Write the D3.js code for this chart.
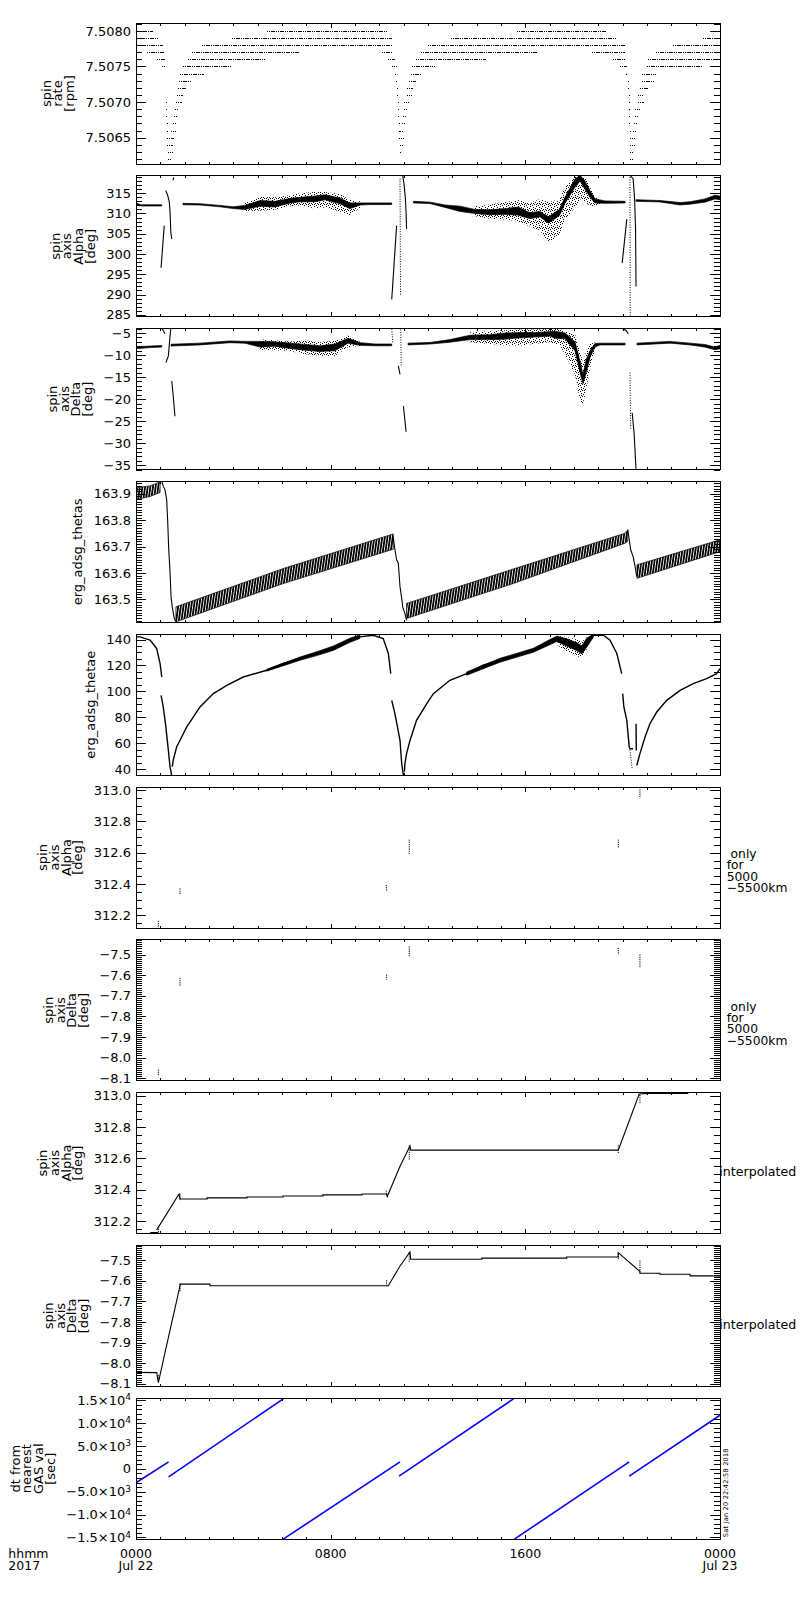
<!DOCTYPE html>
<html lang="en">
<head>
<meta charset="UTF-8">
<title>ERG spin axis, 2017 Jul 22</title>
<script src="https://d3js.org/d3.v7.min.js"></script>
<style>
  body { margin: 0; background: #fff; }
  svg { display: block; font-family: "DejaVu Sans", sans-serif; }
  .frame { fill: none; stroke: #000; stroke-width: 1; shape-rendering: crispEdges; }
  .tick line { shape-rendering: crispEdges; }
</style>
</head>
<body>
<svg id="chart" width="800" height="1600"></svg>
<script>
// ---------- time axis (hours after 2017-07-22 00:00)
const hourMajor = [0, 8, 16, 24];
const hourMinor = d3.range(0, 25);
const hourLabels = [["0000", "Jul 22"], ["0800"], ["1600"], ["0000", "Jul 23"]];

// ---------- panel setup
const panelTitles = [
  ["spin", "rate", "[rpm]"],
  ["spin", "axis", "Alpha", "[deg]"],
  ["spin", "axis", "Delta", "[deg]"],
  ["erg_adsg_thetas"],
  ["erg_adsg_thetae"],
  ["spin", "axis", "Alpha", "[deg]"],
  ["spin", "axis", "Delta", "[deg]"],
  ["spin", "axis", "Alpha", "[deg]"],
  ["spin", "axis", "Delta", "[deg]"],
  ["dt from", "nearest", "GAS val", "[sec]"]
];
const panelRanges = [
  [7.50613, 7.50811], [284.5, 319.3], [-36, -4], [163.413, 163.947], [35.4, 144.1],
  [312.12, 313.02], [-8.113, -7.428], [312.12, 313.02], [-8.113, -7.428], [-15400, 15450]
];
const majorSteps = [0.0005, 5, 5, 0.1, 20, 0.2, 0.1, 0.2, 0.1, 5000];
const minorSteps = [0.0001, 1, 1, 0.01, 5, 0.05, 0.01, 0.05, 0.01, 1000];
const labelFormats = [".4f", "d", "d", ".1f", "d", ".1f", ".1f", ".1f", ".1f", "sci"];
const sideNotes = [null, null, null, null, null,
  [" only", "for", "5000", "\u22125500km"], [" only", "for", "5000", "\u22125500km"],
  ["interpolated"], ["interpolated"], null];
const stampText = "Sat Jan 20 22:42:58 2018";

// ---------- panel 1: spin rate, quantized levels [rate, [[t0, t1], ...]]
const spinRateLevels = [
  [7.5080, [[0.03, 0.71], [5.37, 10.30], [15.65, 19.34]]],
  [7.5079, [[0.03, 0.95], [3.93, 10.51], [12.93, 19.73], [23.29, 24]]],
  [7.5078, [[0.09, 1.12], [2.70, 10.57], [12.00, 20.10], [22.06, 24]]],
  [7.5077, [[0.44, 1.19], [2.29, 6.74], [10.10, 10.57], [11.71, 16.53], [18.73, 20.10], [21.37, 24]]],
  [7.5076, [[0.85, 1.19], [2.15, 5.30], [10.37, 10.64], [11.51, 14.38], [19.60, 20.14], [21.04, 24]]],
  [7.5075, [[1.06, 1.22], [1.92, 3.93], [10.51, 10.71], [11.36, 12.29], [19.89, 20.17], [20.99, 23.31]]],
  [7.5074, [[1.81, 2.79], [10.64, 10.71], [11.30, 11.70], [20.14, 20.14], [20.78, 21.37]]],
  [7.5073, [[1.78, 2.31], [10.70, 10.70], [11.22, 11.49], [20.21, 20.21], [20.78, 21.33]]],
  [7.5072, [[1.74, 2.04], [10.71, 10.71], [11.15, 11.40], [20.23, 20.23], [20.71, 21.04]]],
  [7.5071, [[1.67, 1.94], [10.73, 10.73], [11.12, 11.33], [20.25, 20.25], [20.65, 20.84]]],
  [7.5070, [[1.22, 1.22], [1.64, 1.88], [10.75, 10.75], [11.03, 11.23], [20.26, 20.26], [20.65, 20.88]]],
  [7.5069, [[1.22, 1.22], [1.60, 1.74], [10.76, 10.76], [11.01, 11.15], [20.27, 20.27], [20.51, 20.71]]],
  [7.5068, [[1.23, 1.23], [1.56, 1.70], [10.78, 10.78], [10.96, 11.10], [20.28, 20.28], [20.51, 20.69]]],
  [7.5067, [[1.26, 1.26], [1.53, 1.67], [10.79, 10.79], [10.92, 11.07], [20.28, 20.28], [20.47, 20.60]]],
  [7.5066, [[1.26, 1.26], [1.44, 1.63], [10.81, 10.81], [10.85, 11.03], [20.29, 20.29], [20.43, 20.60]]],
  [7.5065, [[1.29, 1.56], [10.82, 11.00], [20.29, 20.29], [20.39, 20.55]]],
  [7.5064, [[1.29, 1.53], [10.83, 10.96], [20.30, 20.51]]],
  [7.5063, [[1.33, 1.53], [10.84, 10.92], [20.30, 20.47]]],
  [7.5062, [[1.33, 1.47], [20.30, 20.43]]]
];

// ---------- panel 2: spin axis alpha, dense band [t, lo, hi] and scatter envelope
const alphaBand = [
  [[0, 312.2, 312.6], [0.2, 311.85, 312.15], [1.06, 311.85, 312.15]],
  [[1.93, 312.15, 312.5], [2.63, 312.1, 312.4], [3.45, 311.65, 312.0], [4.0, 311.2, 311.65],
   [4.48, 311.0, 312.0], [5.1, 311.8, 313.2], [5.71, 311.6, 313.0], [6.33, 312.6, 313.7],
   [6.74, 312.9, 314.0], [7.36, 312.9, 314.3], [7.77, 313.4, 314.6], [8.38, 312.4, 313.8],
   [8.79, 311.2, 312.6], [9.21, 312.1, 312.6], [9.62, 312.2, 312.6], [10.51, 312.2, 312.6]],
  [[11.40, 312.6, 313.0], [12.08, 312.45, 312.8], [12.70, 311.5, 312.1], [13.32, 310.5, 311.8],
   [13.93, 310.0, 311.0], [14.55, 309.7, 310.9], [15.16, 309.8, 311.2], [15.70, 309.6, 311.6],
   [16.19, 308.7, 310.2], [16.60, 309.2, 310.5], [16.95, 307.6, 309.2], [17.40, 309.5, 311.0],
   [17.63, 312.5, 314.0], [18.04, 316.5, 318.5], [18.25, 318.0, 319.4], [18.45, 316.0, 318.0],
   [18.66, 314.0, 315.6], [18.86, 312.6, 313.6], [19.27, 312.5, 313.1], [20.10, 312.6, 313.0]],
  [[20.55, 313.0, 313.4], [21.53, 312.85, 313.2], [22.36, 312.1, 312.7], [22.77, 312.3, 312.9],
   [23.38, 312.8, 313.6], [23.79, 313.6, 314.5], [24.0, 313.4, 314.3]]
];
const alphaScatter = [
  [[4.48, 310.6, 312.6], [5.1, 310.7, 314.1], [5.71, 310.9, 314.0], [6.33, 311.8, 314.5],
   [6.74, 312.0, 315.0], [7.36, 311.2, 315.3], [7.77, 311.5, 315.3], [8.38, 310.5, 314.8],
   [8.79, 309.5, 313.3], [9.21, 311.5, 313.0]],
  [[13.93, 309.3, 311.8], [14.55, 308.7, 312.2], [15.16, 308.5, 312.8], [15.70, 308.0, 313.3],
   [16.19, 306.8, 312.5], [16.60, 305.8, 313.6], [16.95, 302.9, 312.8], [17.40, 304.5, 313.5],
   [17.63, 308.5, 316.5], [18.04, 311.5, 319.3], [18.25, 313.5, 319.4], [18.45, 312.8, 319.0],
   [18.66, 312.0, 316.5], [18.86, 311.8, 314.0], [19.07, 312.2, 313.5]]
];
const alphaPerigee = [
  [[1.03, 296.6], [1.16, 307.0]],
  [[1.22, 315.7], [1.30, 314.5], [1.37, 312.8], [1.40, 310.3], [1.43, 305.4], [1.47, 303.7]],
  [[1.52, 318.2], [1.55, 318.9]],
  [[10.51, 288.8], [10.71, 307.0]],
  [[10.96, 319.4], [11.01, 317.5], [11.07, 313.8], [11.10, 310.0], [11.12, 306.2]],
  [[19.98, 297.8], [20.17, 308.6]],
  [[20.30, 319.4], [20.43, 318.6], [20.49, 313.7], [20.53, 306.2], [20.55, 292.0]]
];
const alphaPerigeeDotted = [
  [[10.85, 318.6], [10.87, 289.6]],
  [[20.30, 319.0], [20.31, 284.5]]
];

// ---------- panel 3: spin axis delta
const deltaBand = [
  [[0, -8.55, -8.1], [0.6, -8.3, -7.95], [1.06, -8.2, -7.85]],
  [[1.44, -7.95, -7.55], [2.63, -7.7, -7.3], [3.86, -7.2, -6.8], [4.48, -7.3, -6.9],
   [5.10, -8.2, -6.9], [5.71, -8.0, -7.0], [6.33, -8.5, -7.3], [6.95, -8.9, -7.6],
   [7.56, -9.2, -7.9], [8.18, -9.0, -7.5], [8.71, -7.3, -6.2], [9.21, -7.8, -7.2],
   [9.82, -7.9, -7.5], [10.51, -7.9, -7.5]],
  [[11.18, -7.7, -7.3], [12.08, -7.5, -7.15], [12.90, -7.1, -6.5], [13.73, -6.5, -5.5],
   [14.55, -6.5, -5.4], [15.16, -6.4, -5.0], [15.78, -6.1, -4.9], [16.40, -5.9, -4.9],
   [17.01, -5.7, -4.7], [17.22, -6.2, -4.6], [17.63, -6.3, -5.0], [18.04, -9.0, -7.0],
   [18.25, -14.0, -11.5], [18.37, -16.5, -14.5], [18.50, -14.0, -11.0], [18.66, -10.5, -9.0],
   [18.86, -8.2, -7.4], [19.07, -7.7, -7.3], [20.10, -7.7, -7.3]],
  [[20.59, -7.7, -7.3], [21.95, -7.3, -6.9], [22.77, -7.7, -7.3], [23.38, -8.2, -7.6],
   [23.79, -8.8, -8.2], [24.0, -8.6, -7.8]]
];
const deltaScatter = [
  [[5.10, -8.8, -6.4], [6.33, -9.1, -6.9], [6.95, -9.8, -6.7], [7.56, -10.15, -7.1],
   [8.18, -10.15, -6.7], [8.71, -8.24, -5.57], [9.21, -7.9, -7.0]],
  [[13.73, -7.1, -4.8], [14.55, -7.48, -4.6], [15.16, -7.86, -4.4], [15.78, -7.86, -4.2],
   [16.40, -7.48, -4.2], [17.01, -7.1, -4.1], [17.43, -7.9, -4.1], [17.63, -9.8, -4.6],
   [18.04, -14.4, -5.2], [18.25, -20.5, -9.0], [18.37, -21.0, -12.0], [18.50, -18.0, -9.0],
   [18.66, -13.0, -7.5], [18.86, -9.0, -7.1]]
];
const deltaPerigee = [
  [[1.06, -4.04], [1.12, -4.42], [1.19, -5.18]],
  [[1.23, -11.68], [1.33, -10.2], [1.40, -5.6], [1.43, -4.04]],
  [[1.47, -15.89], [1.53, -19.3], [1.60, -23.9]],
  [[10.78, -12.45], [10.85, -14.4]],
  [[10.99, -21.6], [11.10, -27.4]],
  [[20.00, -4.04], [20.14, -4.42], [20.23, -5.18]],
  [[20.39, -23.1], [20.47, -27.7], [20.55, -36]]
];
const deltaPerigeeDotted = [
  [[10.51, -4.04], [10.55, -7.1]],
  [[10.88, -4.2], [10.90, -12.45]],
  [[20.30, -13.98], [20.33, -27.0]]
];

// ---------- panel 4: erg_adsg_thetas (nutation band + drops)
const thetasBand = [
  [[0, 163.878, 163.923], [0.58, 163.89, 163.93], [0.99, 163.905, 163.945]],
  [[1.64, 163.415, 163.472], [6.05, 163.56, 163.617], [10.57, 163.69, 163.748]],
  [[11.12, 163.428, 163.485], [15.5, 163.56, 163.615], [20.10, 163.713, 163.751], [20.21, 163.72, 163.764]],
  [[20.59, 163.58, 163.631], [24.0, 163.681, 163.726]]
];
const thetasDrops = [
  [[1.06, 163.948], [1.12, 163.929], [1.19, 163.916], [1.26, 163.878], [1.30, 163.802], [1.34, 163.70],
   [1.40, 163.599], [1.44, 163.51], [1.49, 163.472], [1.56, 163.434], [1.63, 163.415]],
  [[10.57, 163.738], [10.64, 163.688], [10.71, 163.65], [10.78, 163.637], [10.85, 163.548],
   [10.92, 163.504], [10.96, 163.472], [11.05, 163.447], [11.12, 163.421]],
  [[20.21, 163.764], [20.27, 163.726], [20.33, 163.688], [20.43, 163.662], [20.51, 163.624], [20.58, 163.586]]
];

// ---------- panel 5: erg_adsg_thetae
const thetaeLines = [
  [[0, 142], [0.16, 142], [0.58, 139.5], [0.85, 133], [0.99, 121.5], [1.06, 111]],
  [[1.03, 97], [1.12, 88], [1.22, 73.8], [1.33, 54.5], [1.40, 41.6], [1.44, 38], [1.46, 35.4]],
  [[1.49, 42], [1.53, 47], [1.67, 57.1], [2.08, 72.5], [2.63, 88], [3.18, 98.3], [3.73, 104.7],
   [4.41, 111.1], [5.37, 116.3], [6.05, 121.5], [6.74, 125.3], [7.43, 129.2], [8.11, 133.1],
   [8.79, 139.5], [9.2, 142], [9.75, 143.3], [10.16, 140.8], [10.37, 129.2], [10.47, 113.7]],
  [[10.51, 93.1], [10.64, 82.9], [10.85, 62.2], [10.87, 57], [10.92, 44.2], [10.96, 39], [10.99, 35.4]],
  [[11.03, 38], [11.05, 44.2], [11.12, 52], [11.26, 62.2], [11.53, 77.7], [11.95, 90.6], [12.22, 98.3],
   [12.90, 108.6], [13.59, 113.7], [14.27, 120.2], [14.96, 124], [15.65, 127.9], [16.33, 131.7],
   [17.01, 138.1], [17.29, 140.8], [17.70, 139.5], [18.11, 135.6], [18.32, 131.7], [18.52, 139.5],
   [18.79, 143.3], [19.21, 143.3], [19.48, 139.5], [19.76, 129.2], [19.96, 113.7]],
  [[20.00, 98.3], [20.05, 88], [20.17, 77.7], [20.27, 57], [20.30, 55.8], [20.43, 55.8]],
  [[20.55, 75.1], [20.56, 54.5]],
  [[20.58, 42.9], [20.71, 52], [20.92, 64.8], [21.12, 75.1], [21.40, 84.1], [21.81, 93.1],
   [22.36, 100.8], [22.90, 106], [23.45, 109.9], [23.86, 113.7], [24, 117.6]]
];
const thetaeDotted = [[[20.30, 55], [20.39, 40]]];
const thetaeBand = [
  [[5.37, 115.6, 117], [6.74, 124.0, 126.5], [7.43, 127.6, 130.6], [8.11, 131.6, 135.0],
   [8.79, 137.8, 141.0], [9.2, 140.8, 143.5]],
  [[13.59, 112.5, 115], [14.96, 122.5, 125.5], [16.33, 130.2, 133.2], [17.01, 136.0, 140.0],
   [17.29, 138.5, 142.5], [17.70, 135.0, 140.5], [18.11, 131.5, 137.5], [18.32, 129.0, 135.0],
   [18.52, 134.0, 141.0], [18.79, 141.5, 144.0]]
];
const thetaeScatter = [
  [[17.29, 136, 143], [17.70, 131, 142], [18.11, 127, 140], [18.32, 126.6, 138], [18.52, 131, 142]]
];

// ---------- panels 6/7: values at 5000-5500 km only [t0, v0, t1, v1]
const alphaMarks = [
  [0.92, 312.165, 0.92, 312.127], [1.81, 312.373, 1.81, 312.33], [10.28, 312.395, 10.31, 312.352],
  [11.23, 312.684, 11.23, 312.587], [19.82, 312.684, 19.82, 312.63], [20.71, 313.005, 20.71, 312.951]
];
const deltaMarks = [
  [0.92, -8.058, 0.92, -8.09], [1.81, -7.613, 1.81, -7.654], [10.30, -7.597, 10.30, -7.621],
  [11.23, -7.46, 11.23, -7.508], [19.82, -7.467, 19.82, -7.5], [20.71, -7.5, 20.71, -7.565]
];

// ---------- panels 8/9: interpolated
const alphaInterp = [
  [[0.58, 312.127], [0.92, 312.127]],
  [[0.85, 312.144], [1.77, 312.373], [1.81, 312.341], [2.92, 312.341], [2.92, 312.348], [4.56, 312.348],
   [4.56, 312.354], [6.04, 312.354], [6.04, 312.36], [7.68, 312.36], [7.68, 312.367], [9.29, 312.367],
   [9.29, 312.373], [10.30, 312.373], [10.33, 312.358], [10.85, 312.55], [11.26, 312.679],
   [11.29, 312.653], [19.82, 312.653], [20.68, 313.011], [21.1, 313.015], [22.70, 313.015]]
];
const deltaInterp = [
  [[0.03, -8.045], [0.85, -8.046], [0.92, -8.095], [1.15, -7.971], [1.81, -7.624], [1.81, -7.616],
   [3.04, -7.616], [3.04, -7.624], [10.37, -7.624], [10.85, -7.528], [11.26, -7.46], [11.29, -7.495],
   [14.21, -7.495], [14.21, -7.49], [17.70, -7.49], [17.70, -7.484], [19.82, -7.484], [19.82, -7.463],
   [20.71, -7.555], [20.71, -7.563], [21.53, -7.563], [21.53, -7.568], [22.77, -7.568], [22.77, -7.576],
   [24.0, -7.576]]
];

// ---------- panel 10: dt from nearest GAS value [sec]
const gasDt = [
  [[0, -3060], [1.34, 1530]],
  [[1.34, -1750], [6.05, 15300]],
  [[6.05, -15400], [10.85, 1530]],
  [[10.81, -1600], [15.51, 15300]],
  [[15.55, -15400], [20.27, 1530]],
  [[20.27, -1600], [24, 11730]]
];

// ---------- layout
const plotLeft = 136, plotRight = 720;
const firstTop = 23, panelStep = 152.8, panelHeight = 141;
const titleStep = 11.7;

const svg = d3.select("#chart");
svg.append("rect").attr("width", 800).attr("height", 1600).attr("fill", "#fff");
const defs = svg.append("defs");

// irregular dot pattern for the scattered points
const speckle = defs.append("pattern").attr("id", "speckle")
  .attr("patternUnits", "userSpaceOnUse").attr("width", 6).attr("height", 6);
speckle.selectAll("rect").data([[0, 0], [4, 1], [2, 2], [5, 3], [1, 4], [3, 5], [5, 5], [2, 0]]).join("rect")
  .attr("x", d => d[0]).attr("y", d => d[1]).attr("width", 1).attr("height", 1).attr("fill", "#000");

const zig = defs.append("pattern").attr("id", "zigzag")
  .attr("patternUnits", "userSpaceOnUse").attr("width", 2.6).attr("height", 12)
  .attr("patternTransform", "rotate(8)");
zig.append("rect").attr("width", 1.8).attr("height", 12).attr("fill", "#000");

const x = d3.scaleLinear().domain([0, 24]).range([plotLeft, plotRight]);

function stepTicks(domain, step) {
  const lo = d3.min(domain), hi = d3.max(domain);
  const k0 = Math.ceil(lo / step - 1e-6), k1 = Math.floor(hi / step + 1e-6);
  return d3.range(k0, k1 + 1).map(k => +(k * step).toPrecision(12));
}

const panels = panelTitles.map((title, i) => {
  const top = firstTop + i * panelStep;
  const y = d3.scaleLinear().domain(panelRanges[i]).range([top + panelHeight, top]);
  defs.append("clipPath").attr("id", `clip${i}`).append("rect")
    .attr("x", plotLeft).attr("y", top).attr("width", plotRight - plotLeft).attr("height", panelHeight);
  const g = svg.append("g");
  return { i, top, y, marks: g.append("g").attr("clip-path", `url(#clip${i})`), axes: g.append("g") };
});

// ---------- mark helpers
function drawBands(p, bands, fill, stroke) {
  const area = d3.area().x(d => x(d[0])).y0(d => p.y(d[1])).y1(d => p.y(d[2]));
  p.marks.append("g").selectAll("path").data(bands).join("path")
    .attr("d", area).attr("fill", fill)
    .attr("stroke", stroke ? "#000" : "none").attr("stroke-width", 0.7);
}
function drawLines(p, lines, width, dash, color) {
  const line = d3.line().x(d => x(d[0])).y(d => p.y(d[1]));
  p.marks.append("g").selectAll("path").data(lines).join("path")
    .attr("d", line).attr("fill", "none").attr("stroke", color || "#000")
    .attr("stroke-width", width).attr("stroke-dasharray", dash || null);
}
function drawMarks(p, marks) {
  p.marks.append("g").selectAll("line").data(marks).join("line")
    .attr("x1", d => x(d[0])).attr("y1", d => p.y(d[1]))
    .attr("x2", d => x(d[2])).attr("y2", d => p.y(d[3]))
    .attr("stroke", "#000").attr("stroke-width", 1).attr("stroke-dasharray", "1.2 1");
}
// several lines in one text element, one tspan per line
function stackedText(sel, lines, x0, step) {
  sel.selectAll("tspan").data(lines).join("tspan")
    .attr("x", x0).attr("dy", (d, k) => k ? step : 0).text(d => d);
}

// panel 1 (levels snapped to the pixel grid so the dotted rows stay crisp)
const rateY = v => Math.round(panels[0].y(v)) + 0.5;
const rateSpans = spinRateLevels.flatMap(([rate, spans]) => spans.map(s => ({ rate, t0: s[0], t1: s[1] })));
panels[0].marks.append("g").attr("shape-rendering", "crispEdges")
  .selectAll("line").data(rateSpans.filter(d => d.t1 > d.t0)).join("line")
  .attr("x1", d => x(d.t0)).attr("x2", d => x(d.t1))
  .attr("y1", d => rateY(d.rate)).attr("y2", d => rateY(d.rate))
  .attr("stroke", "#000").attr("stroke-width", 1).attr("stroke-dasharray", "1 1 1 1 4 1");
panels[0].marks.append("g").attr("shape-rendering", "crispEdges")
  .selectAll("rect").data(rateSpans.filter(d => d.t1 <= d.t0)).join("rect")
  .attr("x", d => Math.round(x(d.t0))).attr("y", d => rateY(d.rate) - 0.5)
  .attr("width", 1).attr("height", 1).attr("fill", "#000");

// panel 2
drawBands(panels[1], alphaScatter, "url(#speckle)", false);
drawBands(panels[1], alphaBand, "#000", true);
drawLines(panels[1], alphaPerigee, 1.1);
drawLines(panels[1], alphaPerigeeDotted, 1, "1 1.5");

// panel 3
drawBands(panels[2], deltaScatter, "url(#speckle)", false);
drawBands(panels[2], deltaBand, "#000", true);
drawLines(panels[2], deltaPerigee, 1.1);
drawLines(panels[2], deltaPerigeeDotted, 1, "1 1.5");

// panel 4
drawBands(panels[3], thetasBand, "url(#zigzag)", true);
drawLines(panels[3], thetasDrops, 1.1);

// panel 5
drawBands(panels[4], thetaeScatter, "url(#speckle)", false);
drawBands(panels[4], thetaeBand, "#000", true);
drawLines(panels[4], thetaeLines, 1.4);
drawLines(panels[4], thetaeDotted, 1, "1 1.5");

// panels 6-9
drawMarks(panels[5], alphaMarks);
drawMarks(panels[6], deltaMarks);
drawLines(panels[7], alphaInterp, 1.1);
drawMarks(panels[7], alphaMarks);
drawLines(panels[8], deltaInterp, 1.1);
drawMarks(panels[8], deltaMarks);

// panel 10
drawLines(panels[9], gasDt, 1.6, null, "#0000ff");

// ---------- axes, frames and titles
function sciLabel(text, v) {
  text.text(null);
  if (v === 0) { text.text("0"); return; }
  const e = Math.floor(Math.log10(Math.abs(v)));
  text.append("tspan").text(d3.format(".1f")(v / Math.pow(10, e)) + "\u00d710");
  text.append("tspan").attr("dy", "-0.5em").attr("font-size", 9).text(e);
}

panels.forEach(p => {
  const a = p.axes, i = p.i, bottom = p.top + panelHeight;
  const major = stepTicks(panelRanges[i], majorSteps[i]);
  const minor = stepTicks(panelRanges[i], minorSteps[i])
    .filter(v => !major.some(m => Math.abs(m - v) < minorSteps[i] / 100));

  a.append("g").attr("transform", `translate(${plotLeft},0)`)
    .call(d3.axisLeft(p.y).tickValues(minor).tickSize(-6).tickSizeOuter(0).tickFormat(""));
  a.append("g").attr("transform", `translate(${plotRight},0)`)
    .call(d3.axisRight(p.y).tickValues(minor).tickSize(-6).tickSizeOuter(0).tickFormat(""));
  a.append("g").attr("transform", `translate(${plotRight},0)`)
    .call(d3.axisRight(p.y).tickValues(major).tickSize(-10).tickSizeOuter(0).tickFormat(""));

  const fmt = labelFormats[i] === "sci" ? (() => "") : d3.format(labelFormats[i]);
  const left = a.append("g").attr("transform", `translate(${plotLeft},0)`)
    .call(d3.axisLeft(p.y).tickValues(major).tickSize(-10).tickSizeOuter(0).tickPadding(5).tickFormat(fmt));
  left.attr("font-family", null).attr("font-size", 13);
  if (labelFormats[i] === "sci") left.selectAll(".tick text").each(function (v) { sciLabel(d3.select(this), v); });

  // hour ticks top and bottom
  [[d3.axisTop, p.top], [d3.axisBottom, bottom]].forEach(([axis, yy]) => {
    a.append("g").attr("transform", `translate(0,${yy})`)
      .call(axis(x).tickValues(hourMinor).tickSize(-2.5).tickSizeOuter(0).tickFormat(""));
    a.append("g").attr("transform", `translate(0,${yy})`)
      .call(axis(x).tickValues(hourMajor).tickSize(-4.5).tickSizeOuter(0).tickFormat(""));
  });

  a.selectAll(".domain").remove();
  a.append("rect").attr("class", "frame")
    .attr("x", plotLeft).attr("y", p.top).attr("width", plotRight - plotLeft).attr("height", panelHeight);

  // y title, stacked lines placed left of the widest tick label
  const labelLeft = plotLeft + d3.min(left.selectAll(".tick text").nodes(), n => n.getBBox().x);
  const lines = panelTitles[i];
  const firstBase = labelLeft - 11.5 - titleStep * (lines.length - 1);
  const title = a.append("text")
    .attr("transform", `translate(${firstBase},${p.top + panelHeight / 2}) rotate(-90)`)
    .attr("text-anchor", "middle").attr("font-size", 13);
  stackedText(title, lines, 0, titleStep);

  // notes to the right of the panel
  const note = sideNotes[i];
  if (note && note.length > 1) {
    const t = a.append("text").attr("y", p.top + 70.9)
      .attr("font-size", 12.3).attr("xml:space", "preserve");
    stackedText(t, note, 726.7, 11.3);
  } else if (note) {
    a.append("text").attr("x", 719.3).attr("y", p.top + 83.5)
      .attr("font-size", 12.6).text(note[0]);
  }
});

// ---------- time labels under the last panel
const lastBottom = panels[9].top + panelHeight;
hourMajor.forEach((h, k) => {
  const t = svg.append("text").attr("y", lastBottom + 18.7)
    .attr("font-size", 12.5).attr("text-anchor", "middle");
  stackedText(t, hourLabels[k], x(h), 12);
});
stackedText(svg.append("text").attr("y", lastBottom + 18.7).attr("font-size", 12.5), ["hhmm", "2017"], 8.3, 12);

// creation stamp, rotated along the right edge
svg.append("text")
  .attr("transform", `translate(728.3,${lastBottom - 2}) rotate(-90)`)
  .attr("font-size", 6.6).attr("letter-spacing", 0.2).text(stampText);
</script>
</body>
</html>
